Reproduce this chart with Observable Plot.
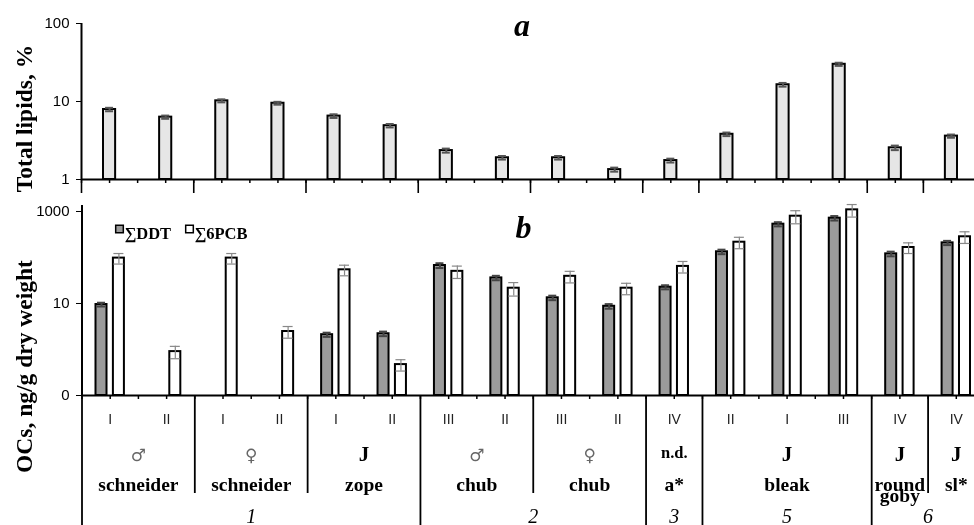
<!DOCTYPE html>
<html>
<head>
<meta charset="utf-8">
<script src="https://cdn.jsdelivr.net/npm/d3@7"></script>
<script src="https://cdn.jsdelivr.net/npm/@observablehq/plot@0.6"></script>
<style>
  html, body { margin: 0; padding: 0; background: white; }
  #chart { position: relative; width: 974px; height: 525px; overflow: hidden; background: white; filter: grayscale(1); }
  #chart svg { position: absolute; left: 0; }
</style>
</head>
<body>
<div id="chart"></div>
<script>
// ---------------- data ----------------
const stages   = ["I","II","I","II","I","II","III","II","III","II","IV","II","I","III","IV","IV"];
const lipids   = [7.9, 6.3, 10.2, 9.5, 6.5, 4.9, 2.35, 1.9, 1.9, 1.34, 1.75, 3.8, 16.4, 30, 2.55, 3.6];
const lipidErr = [0.4, 0.3, 0.45, 0.4, 0.35, 0.25, 0.14, 0.1, 0.1, 0.08, 0.1, 0.2, 0.9, 1.4, 0.17, 0.17];
const ddt      = [9.5, null, null, null, 2.1, 2.2, 67, 36, 13.3, 8.7, 22.6, 133, 530, 716, 120, 208];
const ddtErr   = [0.9, null, null, null, 0.22, 0.25, 8, 4, 1.5, 1, 2.3, 15, 55, 80, 14, 22];
const pcb      = [97, 0.9, 97, 2.46, 54, 0.47, 50, 21.5, 39, 21.5, 64, 215, 790, 1086, 165, 282];
const pcbErr   = [25, 0.27, 25, 0.7, 14, 0.13, 15, 7, 11, 6, 18, 60, 250, 330, 43, 80];

const groupSex   = ["♂","♀","J","♂","♀","n.d.","J","J","J"];
const groupName  = ["schneider","schneider","zope","chub","chub","a*","bleak","round\ngoby","sl*"];
const groupStart = [0, 2, 4, 6, 8, 10, 11, 14, 15];
const groupEnd   = [2, 4, 6, 8, 10, 11, 14, 15, 16];

const sectionLabel = ["1","2","3","5","6"];
const sectionStart = [0, 6, 10, 11, 14];
const sectionEnd   = [6, 10, 11, 14, 16];

const legendLabels = ["∑DDT", "∑6PCB"];
const topTicks = [1, 10, 100];
const botTicks = [0.1, 10, 1000];

// ---------------- derived tables ----------------
const cats = stages.map((stage, i) => ({
  i, stage, lipid: lipids[i], lipidErr: lipidErr[i],
  ddt: ddt[i], ddtErr: ddtErr[i], pcb: pcb[i], pcbErr: pcbErr[i]
}));
const groups = groupName.map((name, k) => ({name, sex: groupSex[k], start: groupStart[k], end: groupEnd[k]}));
const sections = sectionLabel.map((label, k) => ({label, start: sectionStart[k], end: sectionEnd[k]}));
const sectionBounds = [...new Set([...sectionStart, 16])];
const speciesOnlyBounds = groupStart.filter(b => !sectionBounds.includes(b));
const allBounds = [...new Set([...groupStart, 16])];
const halfSteps = d3.range(0, 16.01, 0.5);

const W = 974;
const SERIF = "Liberation Serif, Times New Roman, serif";
const SANS = "Liberation Sans, Arial, sans-serif";
const ddtCats = cats.filter(d => d.ddt != null);

// ---------------- panel a ----------------
const topSvg = Plot.plot({
  width: W, height: 195,
  marginTop: 23, marginBottom: 16, marginLeft: 81, marginRight: 0,
  style: {fontFamily: SANS, fontSize: "15px", background: "white", color: "black"},
  x: {type: "linear", domain: [0, 16], range: [81, 979], axis: null},
  y: {type: "log", domain: [1, 100], ticks: topTicks, tickFormat: d => String(d),
      tickSize: 5, tickPadding: 7, label: null},
  marks: [
    Plot.ruleX([0], {x: d => d, strokeWidth: 2}),
    Plot.ruleX(allBounds, {x: d => d, y1: 1, y2: 1, insetBottom: -14, strokeWidth: 1.6}),
    Plot.ruleX(halfSteps, {x: d => d, y1: 1, y2: 1, insetBottom: -4, strokeWidth: 1.5}),
    Plot.ruleY([1], {y: d => d, strokeWidth: 2}),
    Plot.rectY(cats, {x1: d => d.i, x2: d => d.i + 1, y1: 1, y2: "lipid",
      insetLeft: 22, insetRight: 22, fill: "#e6e6e6", stroke: "black", strokeWidth: 2}),
    Plot.ruleX(cats, {x: d => d.i + 0.5, y1: d => d.lipid - d.lipidErr, y2: d => d.lipid + d.lipidErr,
      stroke: "#555", strokeWidth: 2}),
    Plot.ruleY(cats, {y: d => d.lipid + d.lipidErr, x1: d => d.i + 0.5, x2: d => d.i + 0.5,
      insetLeft: -4, insetRight: -4, stroke: "#555", strokeWidth: 2}),
    Plot.ruleY(cats, {y: d => d.lipid - d.lipidErr, x1: d => d.i + 0.5, x2: d => d.i + 0.5,
      insetLeft: -4, insetRight: -4, stroke: "#555", strokeWidth: 2}),
    Plot.text(["a"], {text: d => d, frameAnchor: "top", dx: -6, dy: 12, lineAnchor: "bottom",
      fontFamily: SERIF, fontWeight: "bold", fontStyle: "italic", fontSize: 32}),
    Plot.text(["Total lipids, %"], {text: d => d, frameAnchor: "left", textAnchor: "middle",
      rotate: -90, dx: -57, dy: 17, fontFamily: SERIF, fontWeight: "bold", fontSize: 23.5})
  ]
});
topSvg.style.top = "0px";

// ---------------- panel b ----------------
const botSvg = Plot.plot({
  width: W, height: 330,
  marginTop: 10, marginBottom: 130, marginLeft: 81, marginRight: 0,
  style: {fontFamily: SANS, fontSize: "15px", background: "white", color: "black"},
  x: {type: "linear", domain: [0, 16], range: [81.5, 984], axis: null},
  y: {type: "log", domain: [0.1, 1350], ticks: botTicks, tickFormat: d => d < 1 ? "0" : String(d),
      tickSize: 5, tickPadding: 7, label: null},
  marks: [
    Plot.ruleX([0], {x: d => d, strokeWidth: 2}),
    Plot.ruleX(sectionBounds, {x: d => d, y1: 0.1, y2: 0.1, insetBottom: -130, strokeWidth: 1.8}),
    Plot.ruleX(speciesOnlyBounds, {x: d => d, y1: 0.1, y2: 0.1, insetBottom: -98, strokeWidth: 1.8}),
    Plot.ruleX(halfSteps, {x: d => d, y1: 0.1, y2: 0.1, insetBottom: -4, strokeWidth: 1.5}),
    Plot.ruleY([0.1], {y: d => d, strokeWidth: 2}),
    // bars
    Plot.rectY(ddtCats, {x1: d => d.i, x2: d => d.i + 1, y1: 0.1, y2: "ddt",
      insetLeft: 14, insetRight: 31.4, fill: "#9b9b9b", stroke: "black", strokeWidth: 2}),
    Plot.rectY(cats, {x1: d => d.i, x2: d => d.i + 1, y1: 0.1, y2: "pcb",
      insetLeft: 31.4, insetRight: 14, fill: "white", stroke: "black", strokeWidth: 2}),
    // error bars DDT
    Plot.ruleX(ddtCats, {x: d => d.i + 0.5, dx: -8.7, y1: d => d.ddt - d.ddtErr, y2: d => d.ddt + d.ddtErr,
      stroke: "#444", strokeWidth: 2}),
    Plot.ruleY(ddtCats, {y: d => d.ddt + d.ddtErr, x1: d => d.i + 0.5, x2: d => d.i + 0.5, dx: -8.7,
      insetLeft: -4, insetRight: -4, stroke: "#444", strokeWidth: 2}),
    Plot.ruleY(ddtCats, {y: d => d.ddt - d.ddtErr, x1: d => d.i + 0.5, x2: d => d.i + 0.5, dx: -8.7,
      insetLeft: -4, insetRight: -4, stroke: "#444", strokeWidth: 2}),
    // error bars PCB
    Plot.ruleX(cats, {x: d => d.i + 0.5, dx: 8.7, y1: d => d.pcb - d.pcbErr, y2: d => d.pcb + d.pcbErr,
      stroke: "#888", strokeWidth: 1.2}),
    Plot.ruleY(cats, {y: d => d.pcb + d.pcbErr, x1: d => d.i + 0.5, x2: d => d.i + 0.5, dx: 8.7,
      insetLeft: -5, insetRight: -5, stroke: "#888", strokeWidth: 1.2}),
    Plot.ruleY(cats, {y: d => d.pcb - d.pcbErr, x1: d => d.i + 0.5, x2: d => d.i + 0.5, dx: 8.7,
      insetLeft: -5, insetRight: -5, stroke: "#888", strokeWidth: 1.2}),
    // legend
    Plot.dot([legendLabels[0]], {frameAnchor: "top-left", dx: 38, dy: 23.5, symbol: "square", r: 4.3,
      fill: "#9b9b9b", stroke: "black", strokeWidth: 1.5}),
    Plot.dot([legendLabels[1]], {frameAnchor: "top-left", dx: 108, dy: 23.5, symbol: "square", r: 4.3,
      fill: "white", stroke: "black", strokeWidth: 1.5}),
    Plot.text([legendLabels[0]], {text: d => d, frameAnchor: "top-left", textAnchor: "start", dx: 43, dy: 22,
      fontFamily: SERIF, fontWeight: "bold", fontSize: 16.5}),
    Plot.text([legendLabels[1]], {text: d => d, frameAnchor: "top-left", textAnchor: "start", dx: 113, dy: 22,
      fontFamily: SERIF, fontWeight: "bold", fontSize: 16.5}),
    // panel letter and y label
    Plot.text(["b"], {text: d => d, frameAnchor: "top", dx: -4.5, dy: 32, lineAnchor: "bottom",
      fontFamily: SERIF, fontWeight: "bold", fontStyle: "italic", fontSize: 32}),
    Plot.text(["OCs, ng/g dry weight"], {text: d => d, frameAnchor: "left", textAnchor: "middle",
      rotate: -90, dx: -57, dy: 66, fontFamily: SERIF, fontWeight: "bold", fontSize: 23.5}),
    // category table
    Plot.text(cats, {x: d => d.i + 0.5, text: "stage", frameAnchor: "bottom", lineAnchor: "bottom", dy: 28,
      fontFamily: SANS, fontSize: 14, fill: "#222"}),
    Plot.text(groups.filter(g => g.sex === "♂" || g.sex === "♀"), {x: d => (d.start + d.end) / 2, text: "sex",
      frameAnchor: "bottom", lineAnchor: "bottom", dy: 65, fontFamily: "DejaVu Sans, sans-serif",
      fontSize: 17, fill: "#666"}),
    Plot.text(groups.filter(g => g.sex === "J"), {x: d => (d.start + d.end) / 2, text: "sex",
      frameAnchor: "bottom", lineAnchor: "bottom", dy: 65, fontFamily: SERIF, fontWeight: "bold", fontSize: 21}),
    Plot.text(groups.filter(g => g.sex === "n.d."), {x: d => (d.start + d.end) / 2, text: "sex",
      frameAnchor: "bottom", lineAnchor: "bottom", dy: 62, fontFamily: SERIF, fontWeight: "bold", fontSize: 16.5}),
    Plot.text(groups, {x: d => (d.start + d.end) / 2, text: "name",
      frameAnchor: "bottom", lineAnchor: "top", lineHeight: 0.6, dy: 86.8,
      fontFamily: SERIF, fontWeight: "bold", fontSize: 19.5}),
    Plot.text(sections, {x: d => (d.start + d.end) / 2, text: "label",
      frameAnchor: "bottom", lineAnchor: "bottom", dy: 127,
      fontFamily: SERIF, fontStyle: "italic", fontSize: 20})
  ]
});
botSvg.style.top = "195px";

const chart = document.getElementById("chart");
chart.appendChild(botSvg);
chart.appendChild(topSvg);
</script>
</body>
</html>
